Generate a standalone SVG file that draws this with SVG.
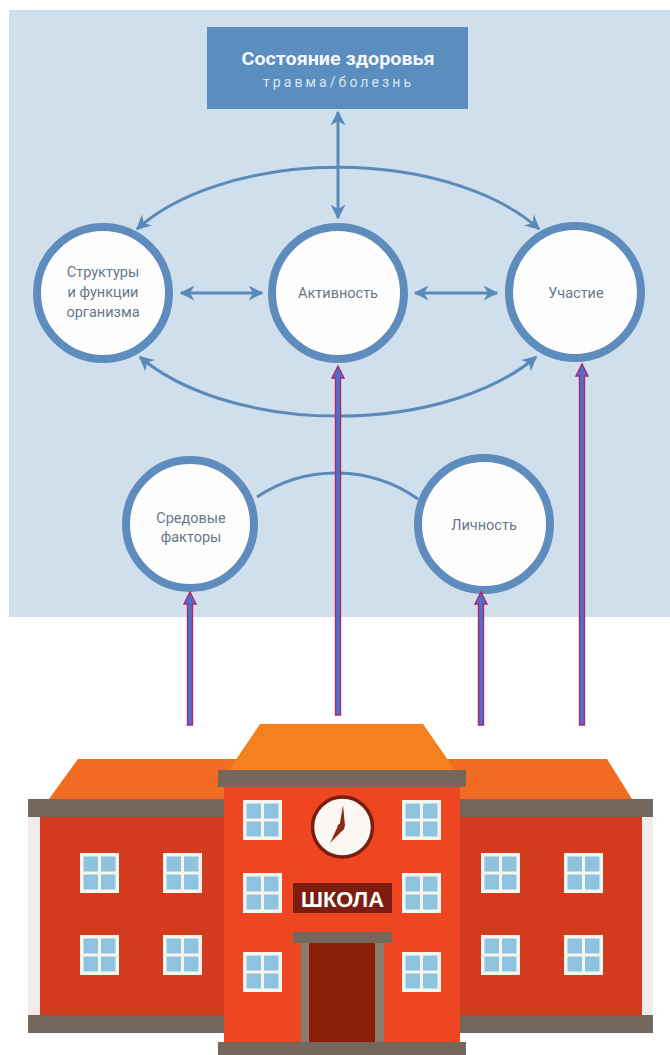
<svg xmlns="http://www.w3.org/2000/svg" width="670" height="1055" viewBox="0 0 670 1055">
  <defs>
    <style>
      .node { fill: #fdfdfe; stroke: #5e8cbc; stroke-width: 8; }
      .lbl { font-family: Roboto, "Liberation Sans", sans-serif; font-size: 14.5px; fill: #6a7886; text-anchor: middle; }
      .link { fill: none; stroke: #5a8aba; stroke-width: 3; }
      .feed { fill: #4e6fce; stroke: #b42468; stroke-width: 1.4; stroke-linejoin: miter; }
      .gray { fill: #76675c; }
      .wing { fill: #d33b1e; }
      .tower { fill: #ef4622; }
      .strip { fill: #f3ecea; }
    </style>
    <marker id="arr" viewBox="0 0 10 10" refX="9" refY="5" markerWidth="5" markerHeight="5" orient="auto-start-reverse" markerUnits="strokeWidth">
      <path d="M0,0 L10,5 L0,10 L3,5 Z" fill="#5a8aba"/>
    </marker>
    <g id="win">
      <rect x="0" y="0" width="39" height="40" fill="#f8f5ee"/>
      <rect x="3.5" y="3.5" width="14.5" height="15" fill="#8ec3df"/>
      <rect x="21" y="3.5" width="14.5" height="15" fill="#8ec3df"/>
      <rect x="3.5" y="21.5" width="14.5" height="15" fill="#8ec3df"/>
      <rect x="21" y="21.5" width="14.5" height="15" fill="#8ec3df"/>
    </g>
  </defs>

  <rect width="670" height="1055" fill="#ffffff"/>
  <!-- model panel -->
  <rect x="9" y="10" width="661" height="607" fill="#d0dfec"/>

  <!-- connectors -->
  <g id="connectors">
    <path class="link" d="M338,112 L338,218" marker-start="url(#arr)" marker-end="url(#arr)"/>
    <path class="link" d="M181,293 L262,293" marker-start="url(#arr)" marker-end="url(#arr)"/>
    <path class="link" d="M415,293 L497,293" marker-start="url(#arr)" marker-end="url(#arr)"/>
    <path class="link" d="M137,229 A235,128 0 0 1 539,229" marker-start="url(#arr)" marker-end="url(#arr)"/>
    <path class="link" d="M140,357 A235,128 0 0 0 536,357" marker-start="url(#arr)" marker-end="url(#arr)"/>
    <path class="link" d="M257,497 A142,142 0 0 1 418,499"/>
  </g>

  <!-- health condition box -->
  <g id="health">
    <rect x="207" y="27" width="261" height="82" fill="#5b8dbf"/>
    <text x="338" y="65" text-anchor="middle" font-family="Roboto, 'Liberation Sans', sans-serif" font-weight="bold" font-size="19" fill="#f4f8fc" textLength="193" lengthAdjust="spacingAndGlyphs">Состояние здоровья</text>
    <text x="337" y="87" text-anchor="middle" font-family="Roboto, 'Liberation Sans', sans-serif" font-size="14" fill="#d9e6f2" textLength="148" lengthAdjust="spacing">травма/болезнь</text>
  </g>

  <g id="body-structures">
    <circle class="node" cx="103" cy="293" r="66"/>
    <text class="lbl" x="103" y="277">Структуры</text>
    <text class="lbl" x="103" y="297">и функции</text>
    <text class="lbl" x="103" y="317">организма</text>
  </g>

  <g id="activity">
    <circle class="node" cx="338" cy="293" r="66"/>
    <text class="lbl" x="338" y="298">Активность</text>
  </g>

  <g id="participation">
    <circle class="node" cx="575" cy="292" r="66"/>
    <text class="lbl" x="576" y="298">Участие</text>
  </g>

  <g id="environment">
    <circle class="node" cx="190" cy="524" r="64"/>
    <text class="lbl" x="191" y="523">Средовые</text>
    <text class="lbl" x="191" y="542">факторы</text>
  </g>

  <g id="personal">
    <circle class="node" cx="484" cy="524" r="66"/>
    <text class="lbl" x="484" y="530">Личность</text>
  </g>

  <!-- feeds from the school up into the model -->
  <g id="school-links">
    <path class="feed" d="M187.5,725 L187.5,604 L184,604 L190,592 L196,604 L192.5,604 L192.5,725 Z"/>
    <path class="feed" d="M335.5,715 L335.5,378 L332,378 L338,366 L344,378 L340.5,378 L340.5,715 Z"/>
    <path class="feed" d="M478.5,725 L478.5,604 L475,604 L481,592 L487,604 L483.5,604 L483.5,725 Z"/>
    <path class="feed" d="M579.5,725 L579.5,376 L576,376 L582,364 L588,376 L584.5,376 L584.5,725 Z"/>
  </g>

  <!-- school building -->
  <g id="school">
    <!-- wing roofs -->
    <polygon points="78,759 240,759 240,799 49,799" fill="#f26b22"/>
    <polygon points="440,759 607,759 632,799 440,799" fill="#f26b22"/>
    <!-- left wing -->
    <rect class="strip" x="28" y="817" width="12" height="198"/>
    <rect class="gray" x="28" y="799" width="196" height="18"/>
    <rect class="wing" x="40" y="817" width="184" height="198"/>
    <rect class="gray" x="28" y="1015" width="196" height="18"/>
    <!-- right wing -->
    <rect class="strip" x="642" y="817" width="11" height="198"/>
    <rect class="gray" x="460" y="799" width="193" height="18"/>
    <rect class="wing" x="460" y="817" width="182" height="198"/>
    <rect class="gray" x="460" y="1015" width="193" height="18"/>
    <!-- tower -->
    <polygon points="260,724 423,724 455,770 229,770" fill="#f5801f"/>
    <rect class="gray" x="218" y="770" width="248" height="17"/>
    <rect class="tower" x="224" y="787" width="236" height="255"/>
    <rect class="gray" x="218" y="1042" width="248" height="13"/>

    <!-- windows -->
    <use href="#win" x="80" y="853"/>
    <use href="#win" x="163" y="853"/>
    <use href="#win" x="80" y="935"/>
    <use href="#win" x="163" y="935"/>
    <use href="#win" x="481" y="853"/>
    <use href="#win" x="564" y="853"/>
    <use href="#win" x="481" y="935"/>
    <use href="#win" x="564" y="935"/>
    <use href="#win" x="243" y="800"/>
    <use href="#win" x="243" y="873"/>
    <use href="#win" x="243" y="952"/>
    <use href="#win" x="402" y="800"/>
    <use href="#win" x="402" y="873"/>
    <use href="#win" x="402" y="952"/>

    <!-- clock -->
    <circle cx="342.5" cy="827" r="30" fill="#fbf8f4" stroke="#7a1c0e" stroke-width="3.5"/>
    <polygon points="343,805 345,826 339,829" fill="#8a2a16"/>
    <polygon points="330,843 338,826 343,830" fill="#8a2a16"/>
    <circle cx="341" cy="827" r="3.5" fill="#8a2a16"/>

    <!-- sign -->
    <rect x="293" y="883" width="99" height="30" fill="#7d1d0f"/>
    <text x="342.5" y="907" text-anchor="middle" font-family="'Liberation Sans', Arial, sans-serif" font-weight="bold" font-size="22" fill="#ffffff" textLength="83" lengthAdjust="spacingAndGlyphs">ШКОЛА</text>

    <!-- entrance -->
    <rect x="309" y="943" width="66" height="99" fill="#8c1f08"/>
    <rect x="301" y="943" width="8" height="99" fill="#8a7b70"/>
    <rect x="375" y="943" width="9" height="99" fill="#8a7b70"/>
    <rect class="gray" x="293" y="932" width="99" height="11"/>
  </g>
</svg>
